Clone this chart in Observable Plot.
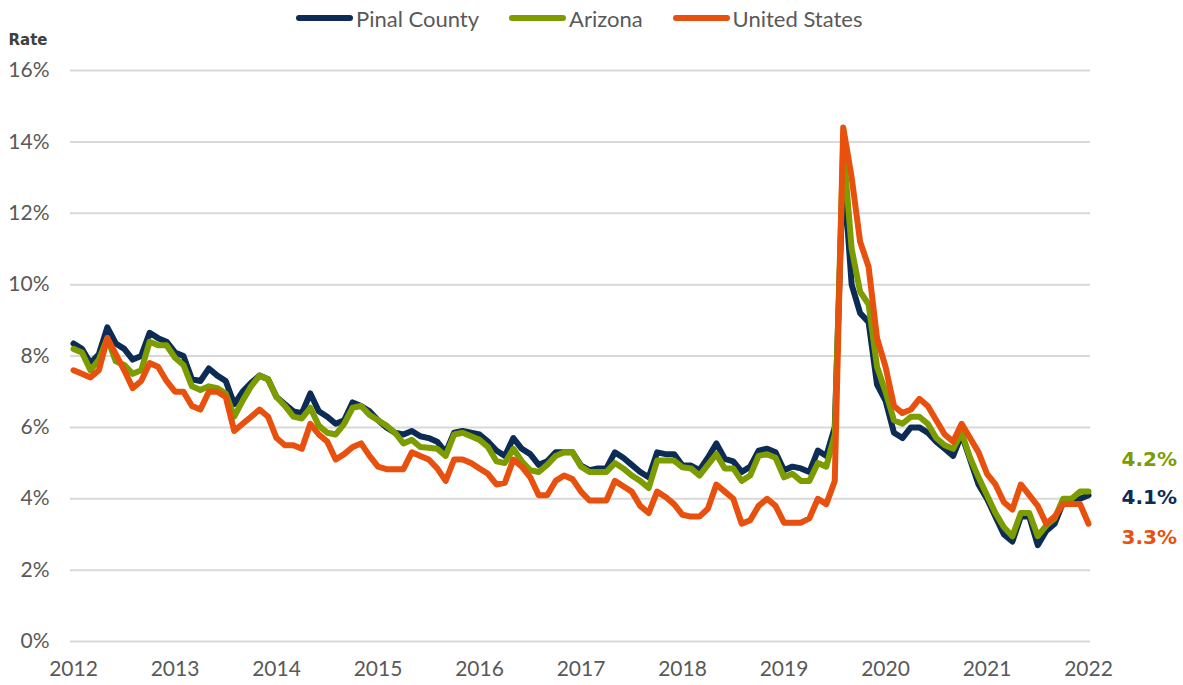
<!DOCTYPE html>
<html>
<head>
<meta charset="utf-8">
<script src="https://cdn.jsdelivr.net/npm/d3@7"></script>
<script src="https://cdn.jsdelivr.net/npm/@observablehq/plot@0.6"></script>
<style>
  body { margin: 0; background: #fff; }
  #legend { height: 24px; padding-top: 6px; display: flex; align-items: center; padding-left: 296px;
            font-family: Lato, "Open Sans", sans-serif; font-size: 22px; color: #595959; }
  .item { display: flex; align-items: center; margin-right: 30px; }
  .sw { width: 57px; height: 6px; border-radius: 3px; margin-right: 3px; }
</style>
</head>
<body>
<div id="legend"></div>
<div id="chart"></div>
<script>
const startYear = 2012;
const seriesNames = ["Pinal County", "Arizona", "United States"];
const seriesColors = ["#0c2b55", "#7d9c00", "#e8500e"];
const yTicks = [0, 2, 4, 6, 8, 10, 12, 14, 16];
const xTicks = [2012, 2013, 2014, 2015, 2016, 2017, 2018, 2019, 2020, 2021, 2022];

// monthly rates (%), Jan 2012 .. Jan 2022
const pinal = [
  8.35, 8.2, 7.8, 8.05, 8.8, 8.35, 8.2, 7.9, 8.0, 8.65,
  8.5, 8.4, 8.1, 8.0, 7.35, 7.3, 7.65, 7.45, 7.3, 6.65,
  7.0, 7.25, 7.45, 7.35, 6.85, 6.65, 6.45, 6.4, 6.95, 6.45,
  6.3, 6.1, 6.2, 6.7, 6.6, 6.45, 6.2, 6.0, 5.85, 5.8,
  5.9, 5.75, 5.7, 5.6, 5.3, 5.85, 5.9, 5.85, 5.8, 5.6,
  5.35, 5.2, 5.7, 5.4, 5.25, 4.95, 5.05, 5.3, 5.3, 5.3,
  4.93, 4.8, 4.85, 4.85, 5.3, 5.15, 4.95, 4.75, 4.6, 5.3,
  5.25, 5.25, 4.93, 4.93, 4.8, 5.15, 5.55, 5.12, 5.05, 4.75,
  4.9, 5.35, 5.4, 5.3, 4.8, 4.9, 4.85, 4.75, 5.35, 5.2,
  6.0, 13.3, 10.0, 9.2, 8.95, 7.2, 6.75, 5.85, 5.7, 6.0,
  6.0, 5.85, 5.6, 5.4, 5.2, 5.8, 5.1, 4.4, 4.0, 3.5,
  3.0, 2.8, 3.5, 3.5, 2.7, 3.1, 3.3, 3.9, 3.9, 4.0,
  4.1
];
const arizona = [
  8.2, 8.1, 7.6, 7.9, 8.5, 7.85, 7.75, 7.5, 7.6, 8.4,
  8.3, 8.3, 7.95, 7.75, 7.15, 7.05, 7.15, 7.1, 6.95, 6.3,
  6.75, 7.15, 7.45, 7.35, 6.85, 6.6, 6.3, 6.25, 6.55, 6.05,
  5.85, 5.8, 6.1, 6.55, 6.6, 6.35, 6.2, 6.05, 5.85, 5.55,
  5.65, 5.45, 5.43, 5.4, 5.2, 5.8, 5.85, 5.75, 5.65, 5.45,
  5.05, 5.0, 5.4, 5.05, 4.8, 4.75, 4.95, 5.2, 5.3, 5.3,
  4.9, 4.75, 4.75, 4.75, 5.0, 4.85, 4.65, 4.5, 4.3, 5.07,
  5.07, 5.07, 4.88, 4.85, 4.65, 4.95, 5.25, 4.85, 4.85, 4.5,
  4.65, 5.2, 5.25, 5.15, 4.6, 4.7, 4.5, 4.5, 5.0, 4.9,
  5.8, 13.9, 11.0, 9.8, 9.45, 7.7, 7.0, 6.2, 6.1, 6.3,
  6.3, 6.1, 5.7, 5.5, 5.4, 5.85, 5.15, 4.6, 4.1, 3.6,
  3.2, 2.95, 3.6, 3.6, 2.95, 3.25, 3.45, 4.0, 4.0, 4.2,
  4.2
];
const us = [
  7.6, 7.5, 7.4, 7.6, 8.5, 8.05, 7.6, 7.1, 7.3, 7.8,
  7.7, 7.3, 7.0, 7.0, 6.6, 6.5, 7.0, 7.0, 6.85, 5.9,
  6.1, 6.3, 6.5, 6.3, 5.7, 5.5, 5.5, 5.4, 6.1, 5.8,
  5.6, 5.1, 5.25, 5.45, 5.55, 5.2, 4.9, 4.83, 4.83, 4.83,
  5.3, 5.2, 5.1, 4.85, 4.5, 5.1, 5.1, 5.0, 4.85, 4.7,
  4.4, 4.45, 5.1, 4.9, 4.6, 4.1, 4.1, 4.5, 4.65, 4.55,
  4.2, 3.95, 3.95, 3.95, 4.5, 4.35, 4.2, 3.8, 3.6, 4.2,
  4.05, 3.85, 3.55, 3.5, 3.5, 3.72, 4.4, 4.2, 4.0, 3.3,
  3.4, 3.8, 4.0, 3.8, 3.33, 3.33, 3.33, 3.45, 4.0, 3.85,
  4.5, 14.4, 13.0, 11.2, 10.5, 8.5, 7.7, 6.6, 6.4, 6.5,
  6.8, 6.6, 6.2, 5.8, 5.6, 6.1, 5.7, 5.3, 4.7, 4.4,
  3.9, 3.7, 4.4, 4.1, 3.8, 3.3, 3.5, 3.85, 3.85, 3.85,
  3.3
];
const endLabels = ["4.1%", "4.2%", "3.3%"];

const seriesValues = [pinal, arizona, us];
const rows = [];
seriesValues.forEach((vals, s) => {
  vals.forEach((v, i) => rows.push({ series: seriesNames[s], t: startYear + i / 12, v }));
});
const lastRows = seriesValues.map((vals, s) => ({
  series: seriesNames[s], t: startYear + (vals.length - 1) / 12, v: vals[vals.length - 1], label: endLabels[s]
}));

// legend
const legend = document.getElementById("legend");
seriesNames.forEach((name, i) => {
  const it = document.createElement("div");
  it.className = "item";
  it.innerHTML = `<span class="sw" style="background:${seriesColors[i]}"></span><span>${name}</span>`;
  legend.appendChild(it);
});

const endOffsets = [2, -32, 14];

const chart = Plot.plot({
  width: 1183,
  height: 655,
  marginLeft: 70,
  marginRight: 93,
  marginTop: 40,
  marginBottom: 44,
  style: { fontFamily: "Lato, 'Open Sans', sans-serif", fontSize: "21px", color: "#595959", background: "#fff" },
  x: {
    domain: [startYear - 0.355 / 12, 2022 + 0.236 / 12],
    ticks: xTicks, tickFormat: d3.format("d"), tickSize: 0, tickPadding: 20, label: null
  },
  y: { domain: [0, 16], ticks: yTicks, tickFormat: d => d + "%", tickSize: 0, tickPadding: 21, label: null },
  color: { domain: seriesNames, range: seriesColors },
  marks: [
    Plot.ruleY(yTicks, { stroke: "#d9d9d9", strokeWidth: 2 }),
    Plot.line(rows, {
      x: "t", y: "v", z: "series", stroke: "series",
      strokeWidth: 6, strokeLinejoin: "round", strokeLinecap: "round"
    }),
    ...lastRows.map((r, s) => Plot.text([r], {
      x: "t", y: "v", text: "label", dx: 33, dy: endOffsets[s], textAnchor: "start",
      fill: seriesColors[s], fontWeight: "bold", fontSize: 20, fontFamily: "DejaVu Sans"
    })),
    Plot.text(["Rate"], {
      frameAnchor: "top-left", dx: -62, dy: -30, lineAnchor: "middle", textAnchor: "start",
      fontWeight: "bold", fontSize: 15, fontFamily: "DejaVu Sans", fill: "#404040"
    })
  ]
});
document.getElementById("chart").appendChild(chart);
</script>
</body>
</html>
